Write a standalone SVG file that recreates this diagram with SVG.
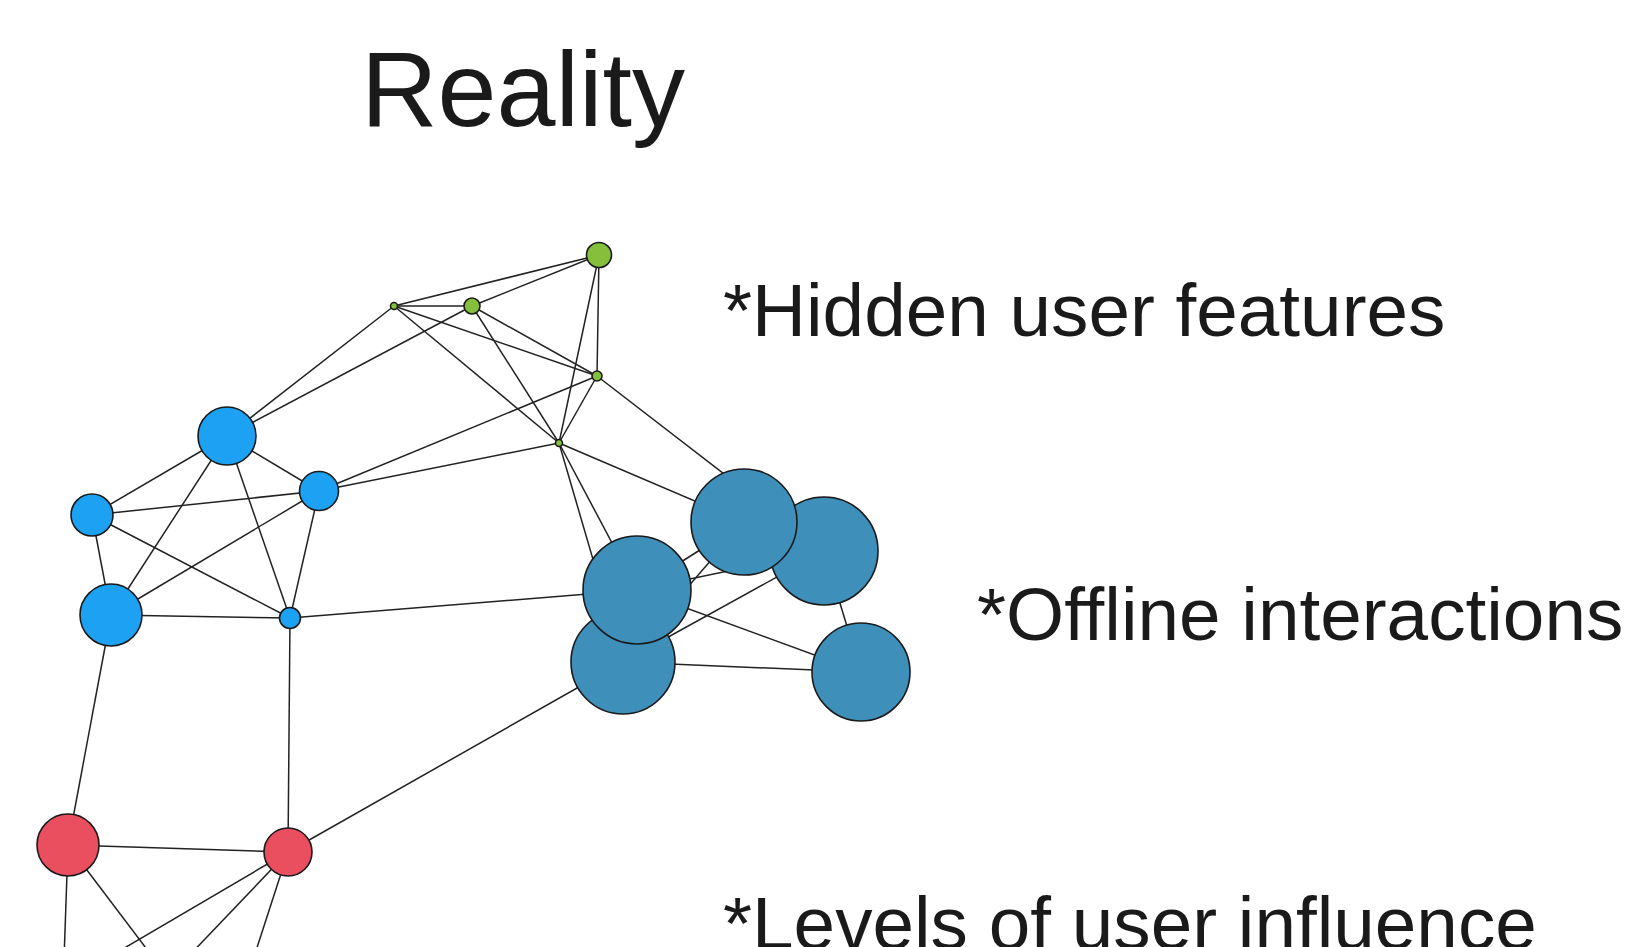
<svg xmlns="http://www.w3.org/2000/svg" width="1631" height="947" viewBox="0 0 1631 947">
  <style>
    .edge { stroke: #222; stroke-width: 1.5; fill: none; }
    .node { stroke: #1a1a1a; stroke-width: 1.6; }
    .green { fill: #86bf3c; }
    .cyan { fill: #1da1f2; }
    .steel { fill: #3f8fbb; }
    .red { fill: #e94f5f; }
    .label { font-family: "Liberation Sans", Arial, sans-serif; fill: #1a1a1a; }
  </style>
  <rect width="1631" height="947" fill="#ffffff"/>

  <text class="label" x="361" y="126" font-size="106">Reality</text>
  <text class="label" x="723" y="336" font-size="74.7">*Hidden user features</text>
  <text class="label" x="977" y="640" font-size="74.7">*Offline interactions</text>
  <text class="label" x="723" y="949" font-size="74.7">*Levels of user influence</text>

  <g id="connectors">
    <!-- green cluster -->
    <line class="edge" x1="394" y1="306" x2="599" y2="255"/>
    <line class="edge" x1="472" y1="306" x2="599" y2="255"/>
    <line class="edge" x1="394" y1="306" x2="472" y2="306"/>
    <line class="edge" x1="394" y1="306" x2="597" y2="376"/>
    <line class="edge" x1="394" y1="306" x2="559" y2="443"/>
    <line class="edge" x1="472" y1="306" x2="597" y2="376"/>
    <line class="edge" x1="472" y1="306" x2="559" y2="443"/>
    <line class="edge" x1="599" y1="255" x2="597" y2="376"/>
    <line class="edge" x1="599" y1="255" x2="559" y2="443"/>
    <line class="edge" x1="597" y1="376" x2="559" y2="443"/>
    <!-- green to blue -->
    <line class="edge" x1="394" y1="306" x2="227" y2="436"/>
    <line class="edge" x1="472" y1="306" x2="227" y2="436"/>
    <line class="edge" x1="597" y1="376" x2="319" y2="491"/>
    <line class="edge" x1="559" y1="443" x2="319" y2="491"/>
    <line class="edge" x1="597" y1="376" x2="824" y2="551"/>
    <line class="edge" x1="559" y1="443" x2="744" y2="522"/>
    <line class="edge" x1="559" y1="443" x2="637" y2="590"/>
    <line class="edge" x1="559" y1="443" x2="623" y2="662"/>
    <!-- blue cluster -->
    <line class="edge" x1="227" y1="436" x2="92" y2="515"/>
    <line class="edge" x1="227" y1="436" x2="319" y2="491"/>
    <line class="edge" x1="227" y1="436" x2="111" y2="615"/>
    <line class="edge" x1="227" y1="436" x2="290" y2="618"/>
    <line class="edge" x1="92" y1="515" x2="319" y2="491"/>
    <line class="edge" x1="92" y1="515" x2="290" y2="618"/>
    <line class="edge" x1="92" y1="515" x2="111" y2="615"/>
    <line class="edge" x1="319" y1="491" x2="111" y2="615"/>
    <line class="edge" x1="319" y1="491" x2="290" y2="618"/>
    <line class="edge" x1="111" y1="615" x2="290" y2="618"/>
    <line class="edge" x1="290" y1="618" x2="637" y2="590"/>
    <line class="edge" x1="290" y1="618" x2="288" y2="852"/>
    <line class="edge" x1="111" y1="615" x2="68" y2="845"/>
    <!-- red cluster -->
    <line class="edge" x1="68" y1="845" x2="288" y2="852"/>
    <line class="edge" x1="288" y1="852" x2="623" y2="662"/>
    <line class="edge" x1="68" y1="845" x2="64" y2="960"/>
    <line class="edge" x1="68" y1="845" x2="155" y2="960"/>
    <line class="edge" x1="288" y1="852" x2="104" y2="960"/>
    <line class="edge" x1="288" y1="852" x2="185" y2="960"/>
    <line class="edge" x1="288" y1="852" x2="253" y2="960"/>
    <!-- steel cluster -->
    <line class="edge" x1="637" y1="590" x2="744" y2="522"/>
    <line class="edge" x1="623" y1="662" x2="744" y2="522"/>
    <line class="edge" x1="637" y1="590" x2="824" y2="551"/>
    <line class="edge" x1="623" y1="662" x2="824" y2="551"/>
    <line class="edge" x1="637" y1="590" x2="861" y2="672"/>
    <line class="edge" x1="623" y1="662" x2="861" y2="672"/>
    <line class="edge" x1="824" y1="551" x2="861" y2="672"/>
  </g>

  <g id="n-g3"><circle class="node green" cx="394" cy="306" r="3.5"/></g>
  <g id="n-g2"><circle class="node green" cx="472" cy="306" r="8"/></g>
  <g id="n-g1"><circle class="node green" cx="599" cy="255" r="12.5"/></g>
  <g id="n-g4"><circle class="node green" cx="597" cy="376" r="5"/></g>
  <g id="n-g5"><circle class="node green" cx="559" cy="443" r="3.5"/></g>

  <g id="n-b1"><circle class="node cyan" cx="227" cy="436" r="29"/></g>
  <g id="n-b2"><circle class="node cyan" cx="319" cy="491" r="19.5"/></g>
  <g id="n-b3"><circle class="node cyan" cx="92" cy="515" r="21"/></g>
  <g id="n-b4"><circle class="node cyan" cx="111" cy="615" r="31"/></g>
  <g id="n-b5"><circle class="node cyan" cx="290" cy="618" r="10.5"/></g>

  <g id="n-d2"><circle class="node steel" cx="824" cy="551" r="54"/></g>
  <g id="n-d1"><circle class="node steel" cx="744" cy="522" r="53"/></g>
  <g id="n-d4"><circle class="node steel" cx="623" cy="662" r="52"/></g>
  <g id="n-d3"><circle class="node steel" cx="637" cy="590" r="54"/></g>
  <g id="n-d5"><circle class="node steel" cx="861" cy="672" r="49"/></g>

  <g id="n-r1"><circle class="node red" cx="68" cy="845" r="31"/></g>
  <g id="n-r2"><circle class="node red" cx="288" cy="852" r="24"/></g>
</svg>
